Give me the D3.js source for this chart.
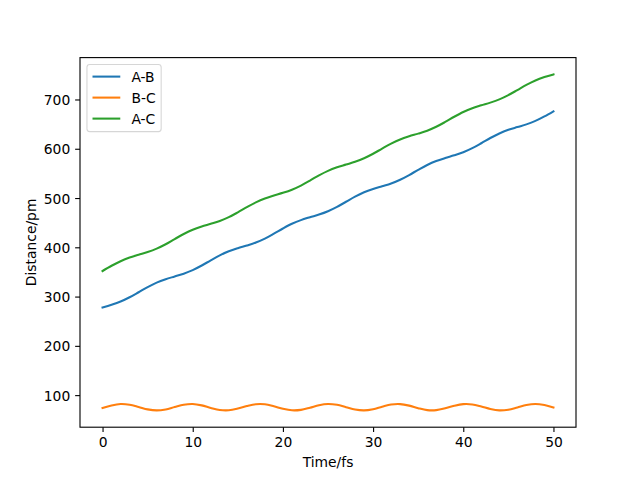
<!DOCTYPE html>
<html>
<head>
<meta charset="utf-8">
<script src="https://cdn.jsdelivr.net/npm/d3@7"></script>
<style>
  html, body { margin: 0; padding: 0; background: #fff; }
  svg text { font-family: "DejaVu Sans", sans-serif; }
</style>
</head>
<body>
<svg id="chart" width="640" height="480"></svg>
<script>
// ---- data ----
const timeFs = [0,1,2,3,4,5,6,7,8,9,10,11,12,13,14,15,16,17,18,19,20,21,22,23,24,25,26,27,28,29,30,31,32,33,34,35,36,37,38,39,40,41,42,43,44,45,46,47,48,49,50];
const distAB = [278.0,283.4,289.9,298.6,308.8,319.3,328.3,335.2,340.8,346.4,353.7,363.0,373.5,383.6,391.9,398.2,403.6,409.7,417.7,427.7,438.2,447.7,455.2,461.0,466.4,473.2,482.0,492.4,502.8,511.6,518.3,523.8,529.5,537.1,546.6,557.2,567.1,575.1,581.2,586.6,592.9,601.2,611.2,621.8,631.1,638.4,644.0,649.5,656.5,665.6,676.0];
const distBC = [73.9,79.1,81.9,80.6,76.1,71.1,69.0,71.0,75.9,80.5,81.9,79.2,74.1,69.9,69.3,72.7,77.8,81.5,81.4,77.4,72.3,69.2,70.1,74.5,79.6,82.0,80.3,75.5,70.7,69.0,71.5,76.5,80.9,81.8,78.7,73.5,69.6,69.5,73.2,78.4,81.7,81.1,76.9,71.8,69.1,70.5,75.1,80.0,82.0,79.8,74.9];
const distAC = [351.9,362.5,371.8,379.2,384.9,390.4,397.3,406.2,416.7,426.9,435.6,442.2,447.6,453.5,461.2,470.9,481.4,491.2,499.1,505.1,510.5,516.9,525.3,535.5,546.0,555.2,562.3,567.9,573.5,580.6,589.8,600.3,610.4,618.9,625.3,630.7,636.7,644.6,654.4,665.0,674.6,682.3,688.1,693.6,700.2,708.9,719.1,729.5,738.5,745.4,750.9];
const seriesNames = ["A-B", "B-C", "A-C"];
const seriesColors = ["#1f77b4", "#ff7f0e", "#2ca02c"];
const xTicks = [0, 10, 20, 30, 40, 50];
const yTicks = [100, 200, 300, 400, 500, 600, 700];
const xLabel = "Time/fs";
const yLabel = "Distance/pm";

// ---- layout (matplotlib default figure 6.4x4.8 in @100dpi) ----
const W = 640, H = 480;
const m = { left: 80, right: 576, top: 57.6, bottom: 427.2 };
const fs = 13.89;        // 10pt
const tickLen = 4.86;    // 3.5pt
const tickPad = 4.86;
const spineW = 1.11;
const lineW = 2.08;

const svg = d3.select("#chart");
const series = [distAB, distBC, distAC];

const xMin = d3.min(timeFs), xMax = d3.max(timeFs);
const xPad = (xMax - xMin) * 0.05;
const x = d3.scaleLinear().domain([xMin - xPad, xMax + xPad]).range([m.left, m.right]);

const allY = series.flat();
const yMin = d3.min(allY), yMax = d3.max(allY);
const yPad = (yMax - yMin) * 0.05;
const y = d3.scaleLinear().domain([yMin - yPad, yMax + yPad]).range([m.bottom, m.top]);

// plot lines
const g = svg.append("g");
const clip = svg.append("clipPath").attr("id", "clip").append("rect")
  .attr("x", m.left).attr("y", m.top).attr("width", m.right - m.left).attr("height", m.bottom - m.top);

const line = d3.line()
  .x((d, i) => x(timeFs[i]))
  .y(d => y(d))
  .curve(d3.curveCatmullRom.alpha(0.5));

series.forEach((s, k) => {
  g.append("path")
    .datum(s)
    .attr("fill", "none")
    .attr("stroke", seriesColors[k])
    .attr("stroke-width", lineW)
    .attr("stroke-linecap", "square")
    .attr("stroke-linejoin", "round")
    .attr("clip-path", "url(#clip)")
    .attr("d", line);
});

// axes
const xAxis = d3.axisBottom(x).tickValues(xTicks).tickSize(tickLen).tickPadding(tickPad).tickSizeOuter(0);
const yAxis = d3.axisLeft(y).tickValues(yTicks).tickSize(tickLen).tickPadding(tickPad).tickSizeOuter(0);

const gx = svg.append("g").attr("transform", `translate(0,${m.bottom})`).call(xAxis);
const gy = svg.append("g").attr("transform", `translate(${m.left},0)`).call(yAxis);
[gx, gy].forEach(a => {
  a.select(".domain").remove();
  a.selectAll(".tick line").attr("stroke", "#000").attr("stroke-width", spineW);
  a.selectAll(".tick text").attr("fill", "#000").style("font-size", fs + "px")
   .style("font-family", '"DejaVu Sans", sans-serif');
});
gx.selectAll(".tick text").attr("dy", null).attr("y", tickLen + tickPad).attr("dominant-baseline", "hanging").attr("dy", "-0.05em");
gy.selectAll(".tick text").attr("dy", "0.36em");

// spines
svg.append("rect")
  .attr("x", m.left).attr("y", m.top)
  .attr("width", m.right - m.left).attr("height", m.bottom - m.top)
  .attr("fill", "none").attr("stroke", "#000").attr("stroke-width", spineW);

// axis labels
svg.append("text")
  .attr("x", (m.left + m.right) / 2).attr("y", 467)
  .attr("text-anchor", "middle").attr("fill", "#000")
  .style("font-size", fs + "px").text(xLabel);

svg.append("text")
  .attr("transform", `translate(36.3,${(m.top + m.bottom) / 2}) rotate(-90)`)
  .attr("text-anchor", "middle").attr("fill", "#000")
  .style("font-size", fs + "px").text(yLabel);

// legend
const lg = svg.append("g");
const lx = m.left + 0.5 * fs, ly = m.top + 0.5 * fs;
const bpad = 0.4 * fs, handleLen = 2.0 * fs, handlePad = 0.8 * fs, rowH = 21;
const frame = lg.append("rect")
  .attr("x", lx).attr("y", ly).attr("rx", 2.8).attr("ry", 2.8)
  .attr("fill", "#fff").attr("fill-opacity", 0.8)
  .attr("stroke", "#cccccc").attr("stroke-opacity", 0.8).attr("stroke-width", 1.1);
let maxW = 0;
seriesNames.forEach((name, k) => {
  const cy = ly + bpad + 6.5 + k * rowH;
  lg.append("line")
    .attr("x1", lx + bpad).attr("x2", lx + bpad + handleLen)
    .attr("y1", cy).attr("y2", cy)
    .attr("stroke", seriesColors[k]).attr("stroke-width", lineW);
  const t = lg.append("text")
    .attr("x", lx + bpad + handleLen + handlePad).attr("y", cy)
    .attr("dy", "0.36em").attr("fill", "#000")
    .style("font-size", fs + "px").text(name);
  maxW = Math.max(maxW, t.node().getComputedTextLength());
});
frame.attr("width", bpad + handleLen + handlePad + maxW + bpad)
     .attr("height", bpad * 2 + 13 + (seriesNames.length - 1) * rowH + 1);
</script>
</body>
</html>
